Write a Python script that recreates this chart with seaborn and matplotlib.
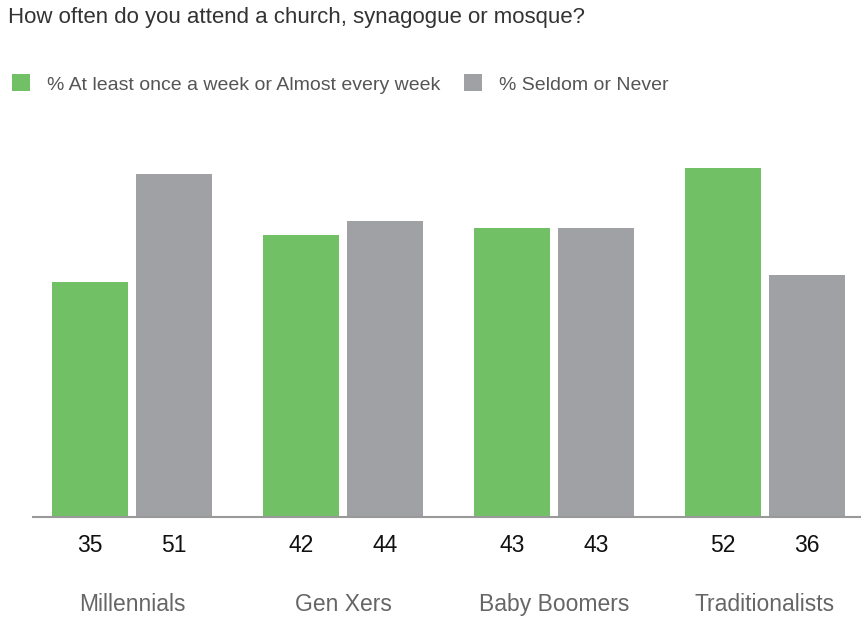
import matplotlib
matplotlib.use("Agg")
import matplotlib.pyplot as plt
import seaborn as sns
import pandas as pd

categories = ["Millennials", "Gen Xers", "Baby Boomers", "Traditionalists"]
series_names = ["% At least once a week or Almost every week", "% Seldom or Never"]
weekly = [35, 42, 43, 52]
seldom = [51, 44, 43, 36]
title = "How often do you attend a church, synagogue or mosque?"

GREEN = "#72C066"
GRAY = "#A0A1A5"

df = pd.DataFrame({
    "category": categories * 2,
    "series": [series_names[0]] * len(categories) + [series_names[1]] * len(categories),
    "value": weekly + seldom,
})

sns.set_style("white")
plt.rcParams["font.family"] = ["Liberation Sans", "DejaVu Sans"]

fig = plt.figure(figsize=(8.61, 6.28), dpi=100)
ax = fig.add_axes([33 / 861, 111 / 628, 1 - 33 / 861, 369.6 / 628])

sns.barplot(data=df, x="category", y="value", hue="series", order=categories,
            hue_order=series_names, palette=[GREEN, GRAY], width=0.8, gap=0.1,
            saturation=1, linewidth=0, ax=ax, legend=True)

ax.set_xlim(-0.469, 3.455)
ax.set_ylim(0, 55)
ax.set_xlabel("")
ax.set_ylabel("")
ax.set_yticks([])
for s in ["left", "right", "top"]:
    ax.spines[s].set_visible(False)
ax.spines["bottom"].set_color("#999999")
ax.spines["bottom"].set_linewidth(1.5)
ax.tick_params(axis="x", length=0, pad=55, labelsize=16.5, labelcolor="#666666")

for cont in ax.containers:
    for patch, val in zip(cont.patches, cont.datavalues):
        ax.annotate(f"{int(val)}", xy=(patch.get_x() + patch.get_width() / 2, 0),
                    xytext=(0, -20.5), textcoords="offset points",
                    ha="center", va="center", fontsize=16.5, color="#111111")

ax.legend(loc="center left", bbox_to_anchor=(12 / 861, 1 - 84 / 628),
          bbox_transform=fig.transFigure, ncol=2, frameon=False,
          fontsize=14, handlelength=0.95, handleheight=0.95,
          handletextpad=0.85, columnspacing=1.2, borderpad=0, borderaxespad=0,
          labelcolor="#555555")

fig.text(8 / 861, 1 - 18 / 628, title, ha="left", va="center",
         fontsize=16, color="#333333")

fig.savefig("out.png", dpi=100)
